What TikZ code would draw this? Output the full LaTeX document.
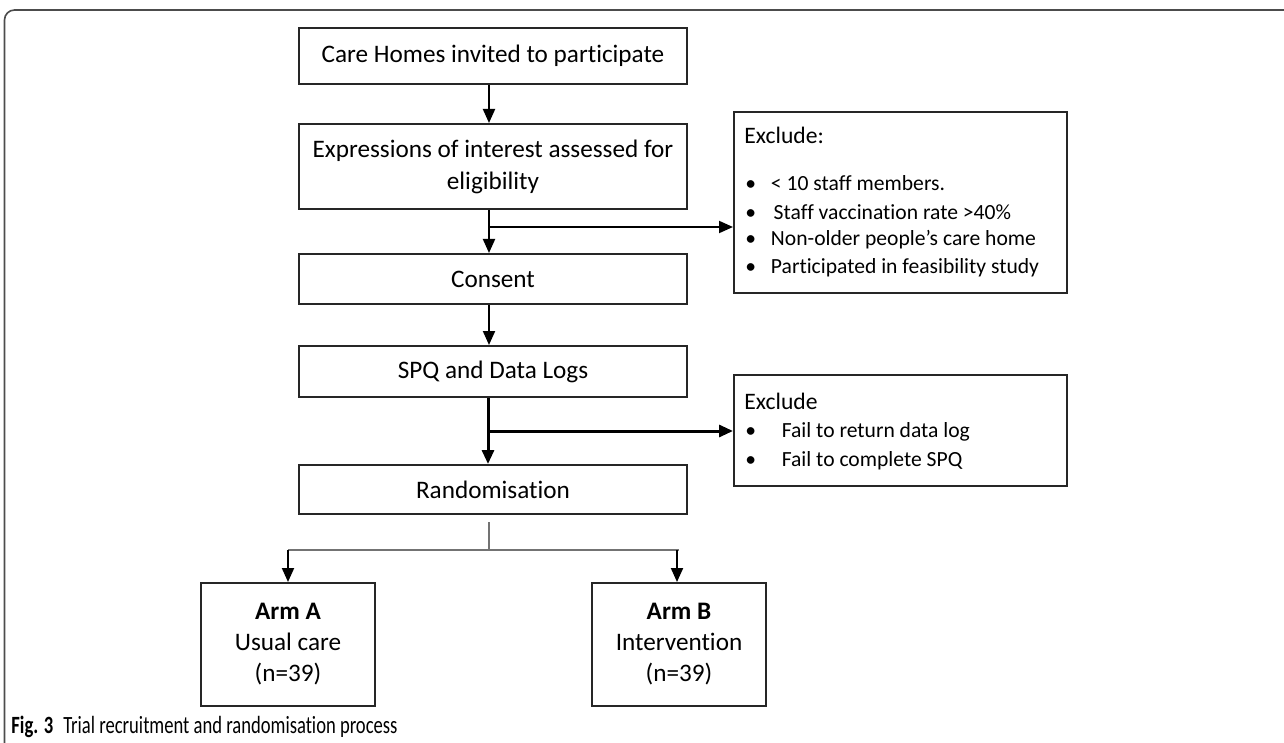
\documentclass[tikz,border=0pt]{standalone}
\usepackage{fontspec}
\setmainfont{Carlito}[Ligatures=NoCommon]
\newfontfamily\capfont{Carlito}[Ligatures=NoCommon,FakeStretch=0.75]
\usetikzlibrary{arrows.meta}
\begin{document}
\begin{tikzpicture}[x=0.5pt,y=-0.5pt,
  box/.style={draw=black!85, line width=1pt, anchor=north west, inner sep=0pt, align=center, font=\fontsize{12.6}{15}\selectfont},
  lbl/.style={anchor=west, inner sep=0pt, font=\fontsize{10.8}{13}\selectfont},
  hdr/.style={anchor=west, inner sep=0pt, font=\fontsize{11.8}{13}\selectfont},
  arr/.style={draw=black, line width=1pt, -{Triangle[length=7pt,width=6pt]}},
  arrthick/.style={draw=black, line width=1.5pt, -{Triangle[length=7pt,width=6pt]}},
  thinl/.style={draw=black!55, line width=0.6pt},
  framec/.style={draw=black!70, line width=0.8pt}
]
\useasboundingbox (0,0) rectangle (1284,743);
\draw[framec, rounded corners=5pt] (4.5,743) -- (4.5,10) -- (1284,10);

\node[box, minimum width=194pt, minimum height=28pt] (care) at (298,27) {Care Homes invited to participate};
\node[box, minimum width=194pt, minimum height=42.5pt] (expr) at (298,123) {Expressions of interest assessed for\\[1pt]eligibility};
\node[box, minimum width=194pt, minimum height=25pt] (cons) at (298,253) {Consent};
\node[box, minimum width=194pt, minimum height=25.5pt] (spq) at (298,345) {SPQ and Data Logs};
\node[box, minimum width=194pt, minimum height=24.5pt] (rand) at (298,464) {Randomisation};

\node[box, minimum width=166.5pt, minimum height=90.5pt] (ex1) at (733,111) {};
\node[hdr] (ex1t) at (744,135) {Exclude:};
\node[lbl] (ex1a) at (745,183) {•\hspace{7.4pt}< 10 staff members.};
\node[lbl] (ex1b) at (745,212) {•\hspace{8.8pt}Staff vaccination rate >40\%};
\node[lbl] (ex1c) at (745,240) {•\hspace{7.4pt}Non-older people’s care home};
\node[lbl] (ex1d) at (745,268) {•\hspace{7.4pt}Participated in feasibility study};

\node[box, minimum width=166.5pt, minimum height=55.5pt] (ex2) at (733,374) {};
\node[hdr] (ex2t) at (744,401) {Exclude};
\node[lbl] (ex2a) at (745,432) {•\hspace{12.8pt}Fail to return data log};
\node[lbl] (ex2b) at (745,461) {•\hspace{12.8pt}Fail to complete SPQ};

\node[box, minimum width=87pt, minimum height=61.5pt] (armA) at (200,582) {\textbf{Arm A}\\[0.5pt]Usual care\\[0.5pt](n=39)};
\node[box, minimum width=87pt, minimum height=61.5pt] (armB) at (591,582) {\textbf{Arm B}\\[0.5pt]Intervention\\[0.5pt](n=39)};

\draw[arr] ([xshift=-2pt]care.south) -- ([xshift=-2pt]expr.north);
\coordinate (b1) at (488,227);
\draw[arr] ([xshift=-2pt]expr.south) -- ([xshift=-2pt]cons.north);
\draw[arr] (b1) -- (b1 -| ex1.west);
\draw[arr] ([xshift=-2pt]cons.south) -- ([xshift=-2pt]spq.north);
\coordinate (b2) at (487,431);
\draw[arrthick] ([xshift=-2.5pt]spq.south) -- ([xshift=-2.5pt]rand.north);
\draw[arrthick] (b2) -- (b2 -| ex2.west);

\coordinate (t0) at (489,522);
\coordinate (sp) at (489,550);
\draw[thinl] (t0) -- (sp);
\draw[thinl] (sp -| armA.north) -- (sp -| armB.north);
\draw[arr] (sp -| armA.north) -- (armA.north);
\draw[arr] ([xshift=-1pt]sp -| armB.north) -- ([xshift=-1pt]armB.north);

\node[anchor=west, inner sep=0pt, font=\capfont\fontsize{12.4}{14}\selectfont] (cap) at (11,727) {\textbf{Fig. 3}\hspace{5pt}Trial recruitment and randomisation process};
\end{tikzpicture}
\end{document}
